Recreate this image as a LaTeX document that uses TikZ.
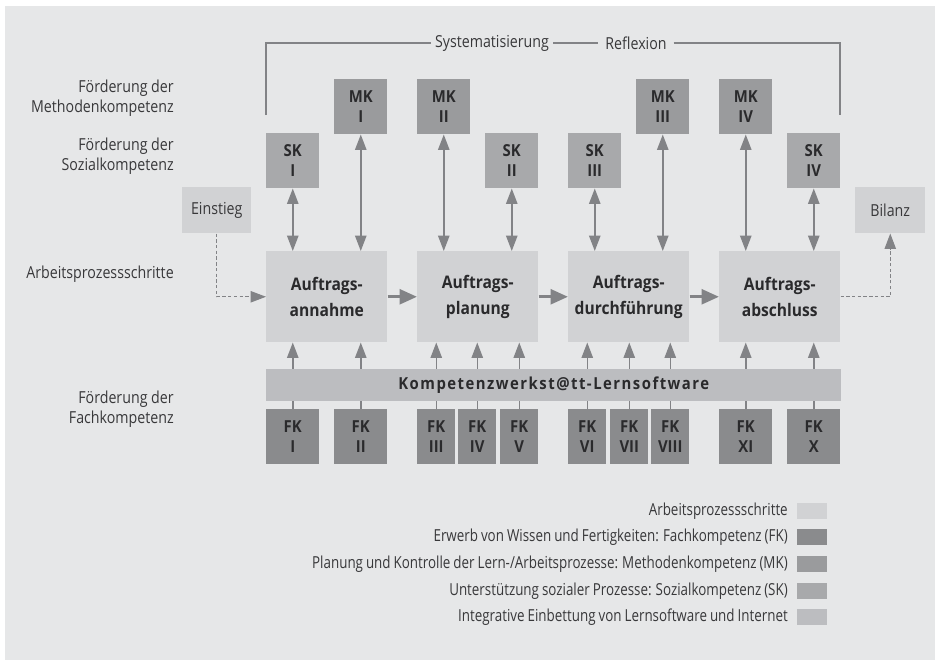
\documentclass[tikz,border=0pt]{standalone}
\usepackage{fontspec}
\setmainfont{Open Sans}[FakeStretch=0.86]
\newfontfamily\legfont{Open Sans}[FakeStretch=0.81,WordSpace=0.85]
\newfontfamily\boxfont{Open Sans}[FakeStretch=0.9]
\newfontfamily\barfont{Open Sans}[FakeStretch=0.9,LetterSpace=9]
\usetikzlibrary{arrows.meta}
\definecolor{bg}{HTML}{E6E7E8}
\definecolor{apc}{HTML}{D1D2D4}
\definecolor{fkc}{HTML}{8A8B8D}
\definecolor{mkc}{HTML}{9A9B9D}
\definecolor{skc}{HTML}{A8A9AB}
\definecolor{barc}{HTML}{BCBDC0}
\definecolor{arr}{HTML}{828386}
\definecolor{txt}{HTML}{2A2A2C}
\definecolor{ltxt}{HTML}{38383A}
\tikzset{
  lbl/.style={text=ltxt, inner sep=0pt, font=\fontsize{12.4}{15}\selectfont},
  leg/.style={text=ltxt, inner sep=0pt, anchor=east, font=\legfont\fontsize{12.4}{15}\selectfont},
  box/.style={anchor=north west, inner sep=0pt, align=center, text=txt,
    font=\boxfont\bfseries\fontsize{12.4}{15}\selectfont},
  mkbox/.style={box, fill=mkc, minimum width=39.75pt, minimum height=41.25pt},
  skbox/.style={box, fill=skc, minimum width=39.75pt, minimum height=41.25pt},
  fkwide/.style={box, fill=fkc, minimum width=39.75pt, minimum height=41.25pt},
  fknarrow/.style={box, fill=fkc, minimum width=28.5pt, minimum height=41.25pt},
  apbox/.style={box, fill=apc, minimum width=90.75pt, minimum height=68.25pt,
    font=\boxfont\bfseries\fontsize{13}{19.5}\selectfont},
  endbox/.style={anchor=north west, inner sep=0pt, fill=apc, text=ltxt,
    minimum height=34.5pt, font=\fontsize{12.4}{15}\selectfont},
  swatch/.style={anchor=north west, inner sep=0pt, minimum width=22.5pt, minimum height=12pt},
  dbl/.style={draw=arr, line width=1.1pt, {Triangle[width=8.5pt,length=11.5pt]}-{Triangle[width=8.5pt,length=11.5pt]}},
  upar/.style={draw=arr, line width=1.1pt, -{Triangle[width=8.5pt,length=11.5pt]}},
  bigar/.style={draw=arr, line width=2.4pt, -{Triangle[width=11pt,length=13pt]}},
  dsh/.style={draw=arr, line width=0.75pt, dash pattern=on 2.5pt off 1.8pt, -{Triangle[width=8.5pt,length=11.5pt]}},
  brk/.style={draw=arr, line width=0.8pt},
}
\begin{document}
\begin{tikzpicture}[x=0.75pt,y=-0.75pt]
\useasboundingbox (0,0) rectangle (940,665);
\fill[white] (0,0) rectangle (940,665);
\fill[bg] (5,6) rectangle (935,660);

% bracket
\coordinate (bl) at (266,115);
\coordinate (br) at (840,115);
\node[lbl, inner xsep=3pt] (sys) at (492,43) {Systematisierung};
\node[lbl, inner xsep=5pt] (ref) at (636,43) {Reflexion};
\draw[brk] (bl) |- (sys.west);
\draw[brk] (sys.east) -- (ref.west);
\draw[brk] (ref.east) -| (br);

% left labels
\node[lbl, anchor=east, align=right] (lm) at (174,98) {Förderung der\\Methodenkompetenz};
\node[lbl, anchor=east, align=right] (ls) at (174,156) {Förderung der\\Sozialkompetenz};
\node[lbl, anchor=east, align=right] (la) at (174,274) {Arbeitsprozessschritte};
\node[lbl, anchor=east, align=right] (lf) at (174,409) {Förderung der\\Fachkompetenz};

% MK boxes
\node[mkbox] (mk1) at (334,79) {MK\\I};
\node[mkbox] (mk2) at (417,79) {MK\\II};
\node[mkbox] (mk3) at (636,79) {MK\\III};
\node[mkbox] (mk4) at (719,79) {MK\\IV};
% SK boxes
\node[skbox] (sk1) at (266,133) {SK\\I};
\node[skbox] (sk2) at (485,133) {SK\\II};
\node[skbox] (sk3) at (568,133) {SK\\III};
\node[skbox] (sk4) at (787,133) {SK\\IV};

% Einstieg / Bilanz
\node[endbox, minimum width=51.75pt] (ein) at (182,187) {Einstieg};
\node[endbox, minimum width=52.5pt] (bil) at (855,187) {Bilanz};

% process boxes
\node[apbox] (a1) at (266,251) {Auftrags-\\annahme};
\node[apbox] (a2) at (417,251) {Auftrags-\\planung};
\node[apbox] (a3) at (568,251) {Auftrags-\\durchführung};
\node[apbox] (a4) at (719,251) {Auftrags-\\abschluss};

% FK boxes
\node[fkwide] (fk1) at (266,409) {FK\\I};
\node[fkwide] (fk2) at (334,409) {FK\\II};
\node[fknarrow] (fk3) at (417,409) {FK\\III};
\node[fknarrow] (fk4) at (458,409) {FK\\IV};
\node[fknarrow] (fk5) at (500,409) {FK\\V};
\node[fknarrow] (fk6) at (568,409) {FK\\VI};
\node[fknarrow] (fk7) at (610,409) {FK\\VII};
\node[fknarrow] (fk8) at (651,409) {FK\\VIII};
\node[fkwide] (fk9) at (719,409) {FK\\XI};
\node[fkwide] (fk10) at (787,409) {FK\\X};

% arrows SK/MK <-> process
\draw[dbl] (sk1.south) -- (sk1.south |- a1.north);
\draw[dbl] (mk1.south) -- (mk1.south |- a1.north);
\draw[dbl] (mk2.south) -- (mk2.south |- a2.north);
\draw[dbl] (sk2.south) -- (sk2.south |- a2.north);
\draw[dbl] (sk3.south) -- (sk3.south |- a3.north);
\draw[dbl] (mk3.south) -- (mk3.south |- a3.north);
\draw[dbl] (mk4.south) -- (mk4.south |- a4.north);
\draw[dbl] (sk4.south) -- (sk4.south |- a4.north);

% FK arrows up
\draw[upar] (fk1.north) -- (fk1.north |- a1.south);
\draw[upar] (fk2.north) -- (fk2.north |- a1.south);
\draw[upar] (fk3.north) -- (fk3.north |- a2.south);
\draw[upar] (fk4.north) -- (fk4.north |- a2.south);
\draw[upar] (fk5.north) -- (fk5.north |- a2.south);
\draw[upar] (fk6.north) -- (fk6.north |- a3.south);
\draw[upar] (fk7.north) -- (fk7.north |- a3.south);
\draw[upar] (fk8.north) -- (fk8.north |- a3.south);
\draw[upar] (fk9.north) -- (fk9.north |- a4.south);
\draw[upar] (fk10.north) -- (fk10.north |- a4.south);

% software bar
\node[anchor=north west, inner sep=0pt, fill=barc, minimum width=431.25pt, minimum height=24pt,
  text=txt, font=\barfont\bfseries\fontsize{12.4}{15}\selectfont] (kw) at (266,369) {Kompetenzwerkst@tt-Lernsoftware};

% process arrows
\draw[bigar] (a1.east) -- (a2.west);
\draw[bigar] (a2.east) -- (a3.west);
\draw[bigar] (a3.east) -- (a4.west);
\draw[dsh] (ein.south) |- (a1.west);
\draw[dsh] (a4.east) -| (bil.south);

% legend
\node[leg] (t1) at (788,511) {Arbeitsprozessschritte};
\node[leg] (t2) at (788,537) {Erwerb von Wissen und Fertigkeiten: Fachkompetenz (FK)};
\node[leg] (t3) at (788,564) {Planung und Kontrolle der Lern-/Arbeitsprozesse: Methodenkompetenz (MK)};
\node[leg] (t4) at (788,591) {Unterstützung sozialer Prozesse: Sozialkompetenz (SK)};
\node[leg] (t5) at (788,617) {Integrative Einbettung von Lernsoftware und Internet};
\node[swatch, fill=apc] (s1) at (797,503) {};
\node[swatch, fill=fkc] (s2) at (797,529) {};
\node[swatch, fill=mkc] (s3) at (797,556) {};
\node[swatch, fill=skc] (s4) at (797,583) {};
\node[swatch, fill=barc] (s5) at (797,609) {};
\end{tikzpicture}
\end{document}
